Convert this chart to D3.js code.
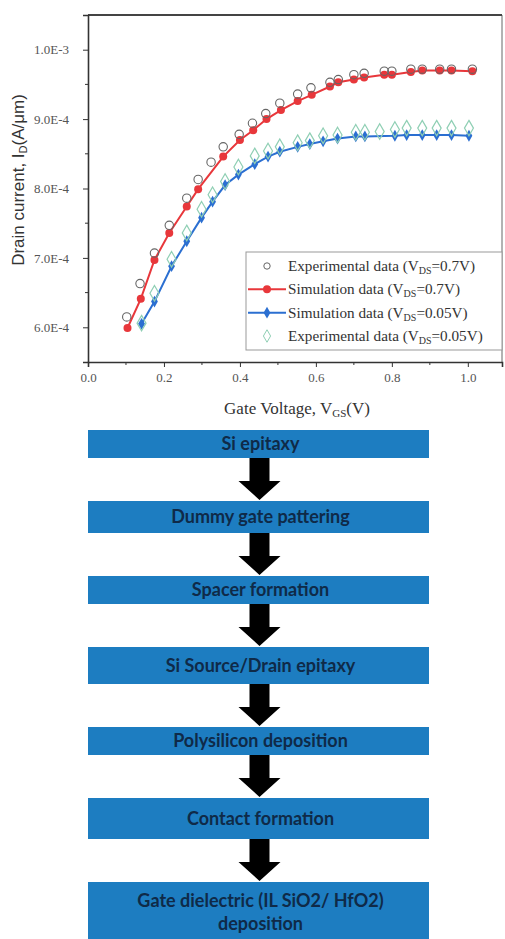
<!DOCTYPE html>
<html lang="en">
<head>
  <meta charset="UTF-8">
  <title>Drain current vs gate voltage + process flow</title>
  <script src="https://d3js.org/d3.v7.min.js"></script>
  <style>
    body {
      margin: 0;
      padding: 0;
      background: #fff;
    }
    svg {
      display: block;
    }
  </style>
</head>
<body>
  <svg id="canvas"></svg>
  <script>
// ---- chart data ----
const expHighX = [0.102, 0.137, 0.175, 0.214, 0.26, 0.29, 0.324, 0.356, 0.398, 0.433, 0.468, 0.505, 0.552, 0.587, 0.637, 0.659, 0.70, 0.727, 0.78, 0.80, 0.85, 0.88, 0.926, 0.957, 1.012];
const expHighY = [6.15e-4, 6.63e-4, 7.07e-4, 7.47e-4, 7.86e-4, 8.13e-4, 8.38e-4, 8.60e-4, 8.78e-4, 8.94e-4, 9.08e-4, 9.23e-4, 9.36e-4, 9.45e-4, 9.53e-4, 9.57e-4, 9.64e-4, 9.66e-4, 9.69e-4, 9.69e-4, 9.72e-4, 9.72e-4, 9.72e-4, 9.72e-4, 9.72e-4];

const simHighX = [0.104, 0.139, 0.175, 0.214, 0.26, 0.29, 0.356, 0.40, 0.435, 0.47, 0.508, 0.552, 0.589, 0.637, 0.659, 0.70, 0.727, 0.78, 0.80, 0.85, 0.88, 0.926, 0.957, 1.012];
const simHighY = [5.99e-4, 6.41e-4, 6.97e-4, 7.36e-4, 7.74e-4, 7.99e-4, 8.46e-4, 8.70e-4, 8.84e-4, 9.00e-4, 9.13e-4, 9.26e-4, 9.35e-4, 9.47e-4, 9.53e-4, 9.57e-4, 9.60e-4, 9.64e-4, 9.64e-4, 9.68e-4, 9.70e-4, 9.70e-4, 9.70e-4, 9.69e-4];

const simLowX = [0.141, 0.175, 0.22, 0.26, 0.299, 0.328, 0.361, 0.396, 0.439, 0.474, 0.505, 0.552, 0.584, 0.619, 0.657, 0.705, 0.729, 0.808, 0.839, 0.88, 0.918, 0.957, 1.003];
const simLowY = [6.05e-4, 6.37e-4, 6.88e-4, 7.24e-4, 7.58e-4, 7.81e-4, 8.05e-4, 8.20e-4, 8.35e-4, 8.46e-4, 8.53e-4, 8.60e-4, 8.64e-4, 8.68e-4, 8.72e-4, 8.75e-4, 8.75e-4, 8.76e-4, 8.77e-4, 8.77e-4, 8.77e-4, 8.77e-4, 8.76e-4];

const expLowX = [0.141, 0.175, 0.22, 0.26, 0.299, 0.328, 0.361, 0.396, 0.439, 0.474, 0.505, 0.552, 0.584, 0.619, 0.657, 0.705, 0.729, 0.768, 0.808, 0.839, 0.88, 0.918, 0.957, 1.003];
const expLowY = [6.06e-4, 6.49e-4, 6.98e-4, 7.36e-4, 7.70e-4, 7.91e-4, 8.10e-4, 8.31e-4, 8.47e-4, 8.54e-4, 8.60e-4, 8.66e-4, 8.69e-4, 8.76e-4, 8.77e-4, 8.81e-4, 8.81e-4, 8.82e-4, 8.85e-4, 8.87e-4, 8.87e-4, 8.87e-4, 8.87e-4, 8.87e-4];

const xTicks = [0, 0.2, 0.4, 0.6, 0.8, 1.0];
const yTicks = [6e-4, 7e-4, 8e-4, 9e-4, 1e-3];
const yTickLabels = ["6.0E-4", "7.0E-4", "8.0E-4", "9.0E-4", "1.0E-3"];

const legendNames = ["Experimental data (V", "Simulation data (V", "Simulation data (V", "Experimental data (V"];
const legendTails = ["=0.7V)", "=0.7V)", "=0.05V)", "=0.05V)"];

// ---- flowchart data ----
const steps = [
  ["Si epitaxy"],
  ["Dummy gate pattering"],
  ["Spacer formation"],
  ["Si Source/Drain epitaxy"],
  ["Polysilicon deposition"],
  ["Contact formation"],
  ["Gate dielectric (IL SiO2/ HfO2)", "deposition"]
];

const W = 505, H = 939;
const svg = d3.select("#canvas").attr("width", W).attr("height", H);

// plot frame
const plot = { left: 88, right: 502, top: 15, bottom: 362 };
const x = d3.scaleLinear().domain([0, 1.09]).range([plot.left, plot.right]);
const y = d3.scaleLinear().domain([5.5e-4, 1.05e-3]).range([plot.bottom, plot.top]);

const red = "#e8373b", blue = "#2b6fd1", green = "#8fcfb4";
const serif = "Liberation Serif, 'Times New Roman', serif";

// frame (top & right)
svg.append("path")
  .attr("d", `M${plot.left},${plot.top}H${plot.right}V${plot.bottom}`)
  .attr("fill", "none").attr("stroke", "#666").attr("stroke-width", 1);
svg.append("line")
  .attr("x1", plot.left).attr("x2", plot.right).attr("y1", plot.top).attr("y2", plot.top)
  .attr("stroke", "#444").attr("stroke-width", 2);

// minor ticks
const xMinor = [0.1, 0.3, 0.5, 0.7, 0.9];
const yMinor = [6.5e-4, 7.5e-4, 8.5e-4, 9.5e-4];

const xAxis = svg.append("g")
  .attr("transform", `translate(0,${plot.bottom})`)
  .call(d3.axisBottom(x).tickValues(xTicks).tickFormat(d3.format(".1f")).tickSize(5).tickPadding(6));
xAxis.selectAll(".minor").data(xMinor).enter().append("line")
  .attr("class", "minor")
  .attr("x1", d => x(d)).attr("x2", d => x(d)).attr("y1", 0).attr("y2", 3)
  .attr("stroke", "#333");

const yAxis = svg.append("g")
  .attr("transform", `translate(${plot.left},0)`)
  .call(d3.axisLeft(y).tickValues(yTicks).tickFormat((d, i) => yTickLabels[i]).tickSize(5).tickPadding(14));
yAxis.selectAll(".minor").data(yMinor).enter().append("line")
  .attr("class", "minor")
  .attr("y1", d => y(d)).attr("y2", d => y(d)).attr("x1", 0).attr("x2", -3)
  .attr("stroke", "#333");

[xAxis, yAxis].forEach(a => {
  a.attr("font-family", serif).attr("font-size", 13);
  a.select(".domain").attr("stroke", "#333").attr("stroke-width", 1.6);
  a.selectAll(".tick line").attr("stroke", "#333");
  a.selectAll(".tick text").attr("fill", "#555");
});

// axis titles
const xTitle = svg.append("text")
  .attr("x", 297).attr("y", 414)
  .attr("text-anchor", "middle")
  .attr("font-family", serif).attr("font-size", 17).attr("fill", "#333");
xTitle.append("tspan").text("Gate Voltage, V");
xTitle.append("tspan").attr("font-size", 11).attr("dy", 3).text("GS");
xTitle.append("tspan").attr("dy", -3).text("(V)");

const yTitle = svg.append("text")
  .attr("transform", "translate(24,180) rotate(-90)")
  .attr("text-anchor", "middle")
  .attr("font-family", "Liberation Sans, Arial, sans-serif").attr("font-size", 17).attr("fill", "#333");
yTitle.append("tspan").text("Drain current, I");
yTitle.append("tspan").attr("font-size", 11).attr("dy", 3).text("D");
yTitle.append("tspan").attr("dy", -3).text("(A/\u03bcm)");

// series
const pts = (xs, ys) => xs.map((v, i) => [v, ys[i]]);
const line = d3.line().x(d => x(d[0])).y(d => y(d[1]));
const diamond = d3.symbol().type(d3.symbolDiamond);

svg.append("path").datum(pts(simHighX, simHighY))
  .attr("d", line).attr("fill", "none").attr("stroke", red).attr("stroke-width", 2);
svg.append("path").datum(pts(simLowX, simLowY))
  .attr("d", line).attr("fill", "none").attr("stroke", blue).attr("stroke-width", 2);

svg.append("g").selectAll("circle").data(pts(simHighX, simHighY)).join("circle")
  .attr("cx", d => x(d[0])).attr("cy", d => y(d[1])).attr("r", 4).attr("fill", red);
svg.append("g").selectAll("path").data(pts(simLowX, simLowY)).join("path")
  .attr("transform", d => `translate(${x(d[0])},${y(d[1])})`)
  .attr("d", diamond.size(40)()).attr("fill", blue);

svg.append("g").selectAll("circle").data(pts(expHighX, expHighY)).join("circle")
  .attr("cx", d => x(d[0])).attr("cy", d => y(d[1])).attr("r", 4.2)
  .attr("fill", "none").attr("stroke", "#666").attr("stroke-width", 1.1);
svg.append("g").selectAll("path").data(pts(expLowX, expLowY)).join("path")
  .attr("transform", d => `translate(${x(d[0])},${y(d[1])})`)
  .attr("d", diamond.size(70)()).attr("fill", "none").attr("stroke", green).attr("stroke-width", 1.2);

// legend
const lg = svg.append("g").attr("transform", "translate(246,252)");
lg.append("rect").attr("width", 256).attr("height", 98)
  .attr("fill", "#fff").attr("stroke", "#999").attr("stroke-width", 1);
const rowY = d3.scalePoint().domain(d3.range(4)).range([14, 84]);
const rows = lg.selectAll(".row").data(legendNames).join("g")
  .attr("class", "row").attr("transform", (d, i) => `translate(0,${rowY(i)})`);
rows.each(function(d, i) {
  const g = d3.select(this);
  if (i === 1 || i === 2) {
    g.append("line").attr("x1", 2).attr("x2", 40).attr("stroke", i === 1 ? red : blue).attr("stroke-width", 2);
  }
  if (i === 0) g.append("circle").attr("cx", 21).attr("r", 3.2).attr("fill", "none").attr("stroke", "#666");
  if (i === 1) g.append("circle").attr("cx", 21).attr("r", 4).attr("fill", red);
  if (i === 2) g.append("path").attr("transform", "translate(21,0)").attr("d", diamond.size(40)()).attr("fill", blue);
  if (i === 3) g.append("path").attr("transform", "translate(21,0)").attr("d", diamond.size(45)()).attr("fill", "none").attr("stroke", green);
  const t = g.append("text").attr("x", 42).attr("y", 5)
    .attr("font-family", serif).attr("font-size", 15.2).attr("fill", "#333");
  t.append("tspan").text(d);
  t.append("tspan").attr("font-size", 10).attr("dy", 3).text("DS");
  t.append("tspan").attr("dy", -3).text(legendTails[i]);
});

// ---- flowchart ----
const box = { left: 88, right: 429 };
const boxH = [28, 32, 28, 37, 28, 41, 60]; // layout heights
const gap = 43;
let yCursor = 430;
const layout = steps.map((s, i) => {
  const o = { lines: s, top: yCursor, h: boxH[i] };
  yCursor += boxH[i] + gap;
  return o;
});
const cx = (box.left + box.right) / 2;

const fg = svg.append("g");
fg.selectAll("rect").data(layout).join("rect")
  .attr("x", box.left).attr("y", d => d.top)
  .attr("width", box.right - box.left).attr("height", d => d.h)
  .attr("fill", "#1d7dc1");

fg.selectAll("text").data(layout).join("text")
  .attr("x", cx + 2)
  .attr("y", d => d.lines.length > 1 ? d.top + 25 : d.top + d.h / 2 + 6)
  .attr("text-anchor", "middle")
  .attr("font-family", "Lato, 'Open Sans', sans-serif").attr("font-weight", "bold")
  .attr("font-size", 18).attr("fill", "#0f2a48")
  .selectAll("tspan").data(d => d.lines).join("tspan")
  .attr("x", cx + 2).attr("dy", (d, i) => i ? 23 : 0).text(d => d);

// arrows between boxes
const arrows = layout.slice(0, -1).map((d, i) => [d.top + d.h, layout[i + 1].top]);
fg.selectAll(".arrow").data(arrows).join("path")
  .attr("class", "arrow")
  .attr("d", d => {
    const y0 = d[0], y1 = d[1] - 1, hy = y1 - 19;
    return `M${cx - 9},${y0}H${cx + 11}V${hy}H${cx + 22}L${cx + 1},${y1}L${cx - 20},${hy}H${cx - 9}Z`;
  })
  .attr("fill", "#000");
  </script>
</body>
</html>
